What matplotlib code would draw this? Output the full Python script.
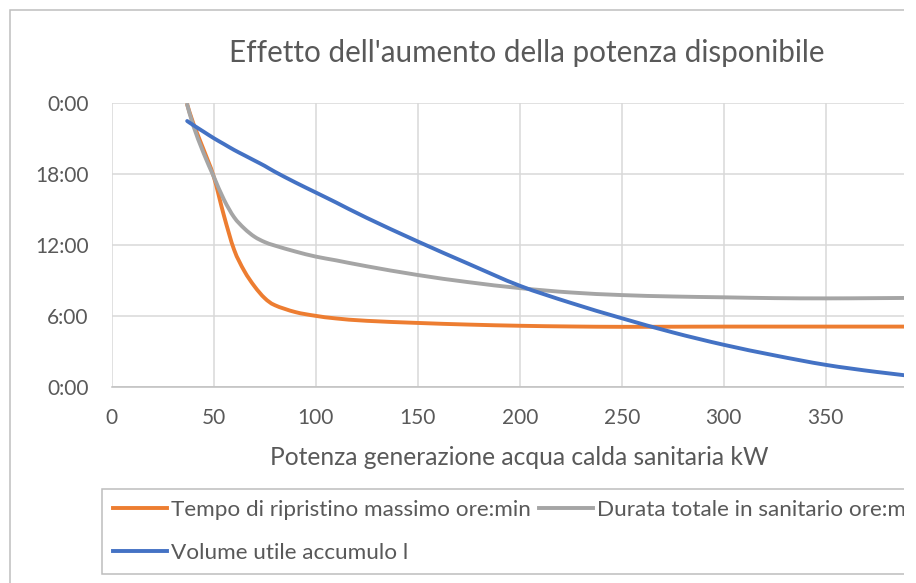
import matplotlib.pyplot as plt
from matplotlib.lines import Line2D
from matplotlib.patches import Rectangle, PathPatch
from matplotlib.path import Path
from matplotlib.ticker import FuncFormatter, MultipleLocator

plt.rcParams['font.family'] = ['Lato', 'DejaVu Sans']

# potenza generazione ACS (kW)
potenza = [37, 40, 45, 50, 55, 60, 65, 70, 75, 80, 90, 100, 110, 125,
           150, 175, 200, 225, 250, 275, 300, 325, 350, 375, 400]

# ore (frazione di giornata * 24)
tempo_ripristino = [23.9, 22.3, 20.1, 17.8, 14.5, 11.6, 9.8, 8.5, 7.5, 6.9,
                    6.32, 6.0, 5.78, 5.58, 5.40, 5.26, 5.16, 5.10, 5.07, 5.08,
                    5.09, 5.09, 5.09, 5.09, 5.09]
durata_totale = [23.9, 22.1, 19.8, 17.8, 15.85, 14.35, 13.4, 12.7, 12.25, 11.95,
                 11.45, 11.02, 10.7, 10.2, 9.46, 8.85, 8.35, 7.98, 7.76, 7.64,
                 7.57, 7.5, 7.48, 7.5, 7.53]
volume_utile = [22.5, 22.15, 21.6, 21.05, 20.55, 20.05, 19.6, 19.15, 18.7, 18.2,
                17.3, 16.45, 15.6, 14.3, 12.3, 10.4, 8.55, 7.1, 5.8, 4.6,
                3.55, 2.65, 1.85, 1.25, 0.75]

labels = ['Tempo di ripristino massimo ore:min',
          'Durata totale in sanitario ore:min',
          'Volume utile accumulo l']
colors = ['#ED7D31', '#A5A5A5', '#4472C4']
text_col = '#595959'
x_ticks = [0, 50, 100, 150, 200, 250, 300, 350]


def smooth_path(xs, ys):
    # Excel-like smoothed line: cubic bezier through the points
    pts = list(zip(xs, ys))
    verts = [pts[0]]
    codes = [Path.MOVETO]
    n = len(pts)
    for i in range(n - 1):
        p0 = pts[max(i - 1, 0)]
        p1 = pts[i]
        p2 = pts[i + 1]
        p3 = pts[min(i + 2, n - 1)]
        c1 = (p1[0] + (p2[0] - p0[0]) / 6, p1[1] + (p2[1] - p0[1]) / 6)
        c2 = (p2[0] - (p3[0] - p1[0]) / 6, p2[1] - (p3[1] - p1[1]) / 6)
        verts += [c1, c2, p2]
        codes += [Path.CURVE4] * 3
    return Path(verts, codes)


W, H = 916, 583
fig = plt.figure(figsize=(W / 100, H / 100), dpi=100)

# chart area border (the chart is cut on the right)
fig.add_artist(Rectangle((10 / W, -0.1), 2, 1 - 10 / H + 0.1, transform=fig.transFigure,
                         fill=False, edgecolor='#BFBFBF', linewidth=1.1, zorder=0))

ax = fig.add_axes([111.7 / W, 1 - 386.7 / H, 816 / W, 283.4 / H])
lw = 2.8
for ys, c in zip([tempo_ripristino, durata_totale, volume_utile], colors):
    ax.add_patch(PathPatch(smooth_path(potenza, ys), facecolor='none', edgecolor=c,
                           linewidth=lw, capstyle='round', joinstyle='round'))

ax.set_xlim(0, 400)
ax.set_ylim(0, 24)
ax.set_xticks(x_ticks)
ax.yaxis.set_major_locator(MultipleLocator(6))
ax.yaxis.set_major_formatter(FuncFormatter(lambda v, p: f'{int(v) % 24}:00'))
ax.grid(True, color='#D9D9D9', linewidth=1.1)
ax.set_axisbelow(True)
for s in ['top', 'right', 'left']:
    ax.spines[s].set_visible(False)
ax.spines['bottom'].set_color('#BFBFBF')
ax.spines['bottom'].set_linewidth(1.1)
ax.tick_params(length=0, labelsize=15, labelcolor=text_col)
ax.tick_params(axis='y', pad=16.5)
ax.tick_params(axis='x', pad=15)

fig.text(526.5 / W, 1 - 61.7 / H, "Effetto dell'aumento della potenza disponibile",
         ha='center', va='baseline', fontsize=21.3, color=text_col)
fig.text(519.7 / W, 1 - 465 / H, 'Potenza generazione acqua calda sanitaria kW',
         ha='center', va='baseline', fontsize=17.7, color=text_col)

# row-major order: Tempo, Durata / Volume
order = [0, 2, 1]
handles = [Line2D([], [], color=colors[i], linewidth=lw) for i in order]
leg = fig.legend(handles, [labels[i] for i in order], ncol=2, loc='upper left',
                 bbox_to_anchor=(101.7 / W, 1 - 489 / H), borderaxespad=0,
                 fontsize=16.2, handlelength=2.4, handletextpad=0.2,
                 columnspacing=0.34, labelspacing=1.0, borderpad=0.5,
                 fancybox=False, frameon=True)
leg.get_frame().set_edgecolor('#ADADAD')
leg.get_frame().set_linewidth(1.1)
for t in leg.get_texts():
    t.set_color(text_col)

# crop on the right like the reference
fig.add_artist(Rectangle((904 / W, 0), 1, 1, transform=fig.transFigure,
                         facecolor='white', edgecolor='none', zorder=100))

fig.savefig('out.png', dpi=100)
